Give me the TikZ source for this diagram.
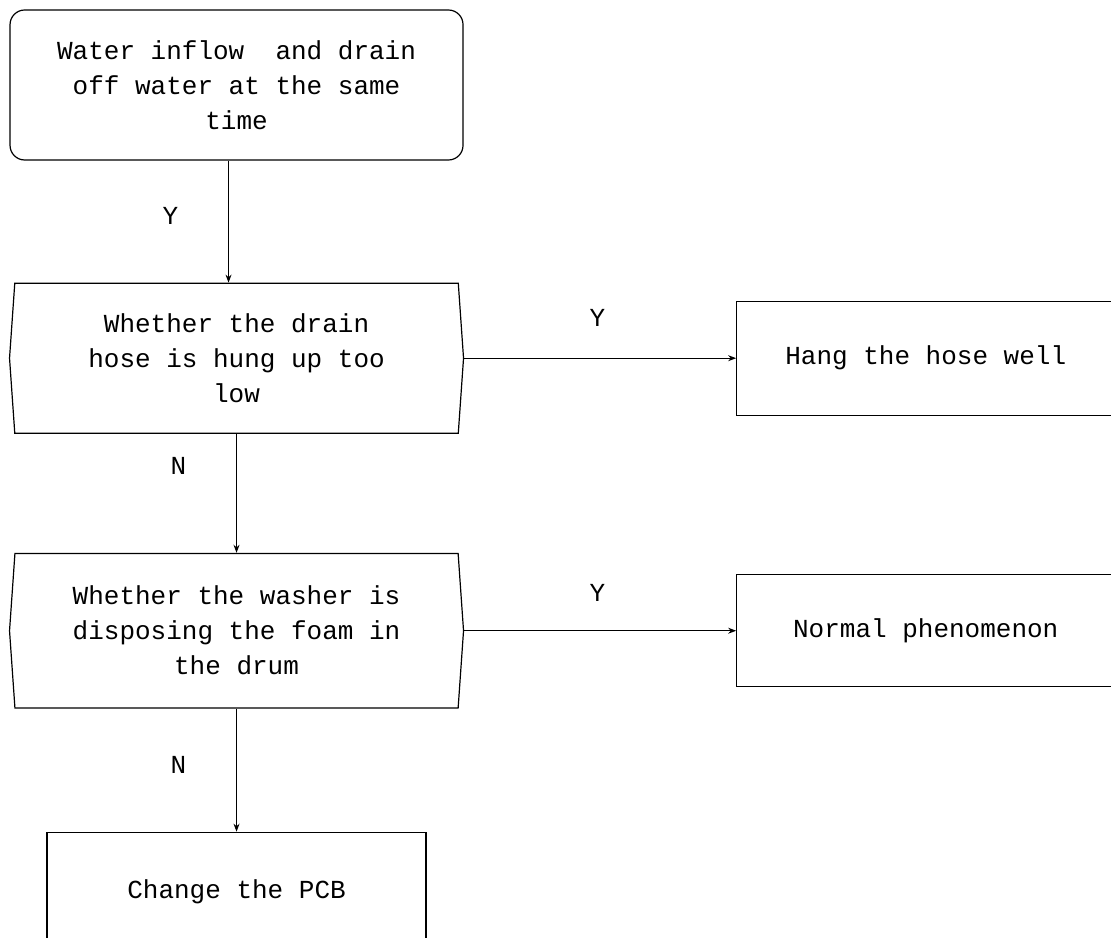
\documentclass[tikz,border=0pt]{standalone}
\usepackage{fontspec}
\setmonofont{Liberation Mono}
\usetikzlibrary{positioning,shapes.symbols,arrows.meta}
\tikzset{
    flowfont/.style={font=\ttfamily\fontsize{19.5}{26.25}\selectfont},
    startbox/.style={rectangle, draw, rounded corners=11pt, line width=0.9pt, minimum width=339.75pt, minimum height=112.5pt, align=center, flowfont},
    decision/.style={signal, signal to=west and east, signal pointer angle=172, draw, line width=0.9pt, minimum width=340.5pt, align=center, flowfont},
    action/.style={rectangle, draw, line width=0.9pt, minimum width=283.5pt, minimum height=85.5pt, align=center, flowfont},
    arrow/.style={-{Stealth[length=6pt,width=4.5pt]}, line width=0.75pt},
    answer/.style={flowfont}
}

\begin{document}
\begin{tikzpicture}

\path[use as bounding box] (0,0) rectangle (833.25pt,-703.5pt);

\node[startbox] (inflow) at (177.4pt,-63.75pt) {Water inflow~ and drain\\off water at the same\\time};

\node[decision, minimum height=112.5pt, below=91.5pt of inflow] (hose) {Whether the drain\\hose is hung up too\\low};
\node[action, right=204pt of hose] (hang) {Hang the hose well};

\node[decision, minimum height=116pt, below=89.25pt of hose] (foam) {Whether the washer is\\disposing the foam in\\the drum};
\node[action, minimum height=84pt, right=204pt of foam] (normal) {Normal phenomenon};

\node[action, minimum width=284.25pt, minimum height=88.5pt, below=92.25pt of foam] (pcb) {Change the PCB};

\draw[arrow] ([xshift=-6pt]inflow.south) -- node[answer, pos=0.45, xshift=-43.5pt] {Y} ([xshift=-6pt]inflow.south |- hose.north);
\draw[arrow] (hose.east) -- node[answer, pos=0.49, yshift=30pt] {Y} (hang.west);
\draw[arrow] (hose.south) -- node[answer, pos=0.27, xshift=-43.5pt] {N} (foam.north);
\draw[arrow] (foam.east) -- node[answer, pos=0.49, yshift=28.5pt] {Y} (normal.west);
\draw[arrow] (foam.south) -- node[answer, pos=0.46, xshift=-43.5pt] {N} (pcb.north);

\end{tikzpicture}
\end{document}
